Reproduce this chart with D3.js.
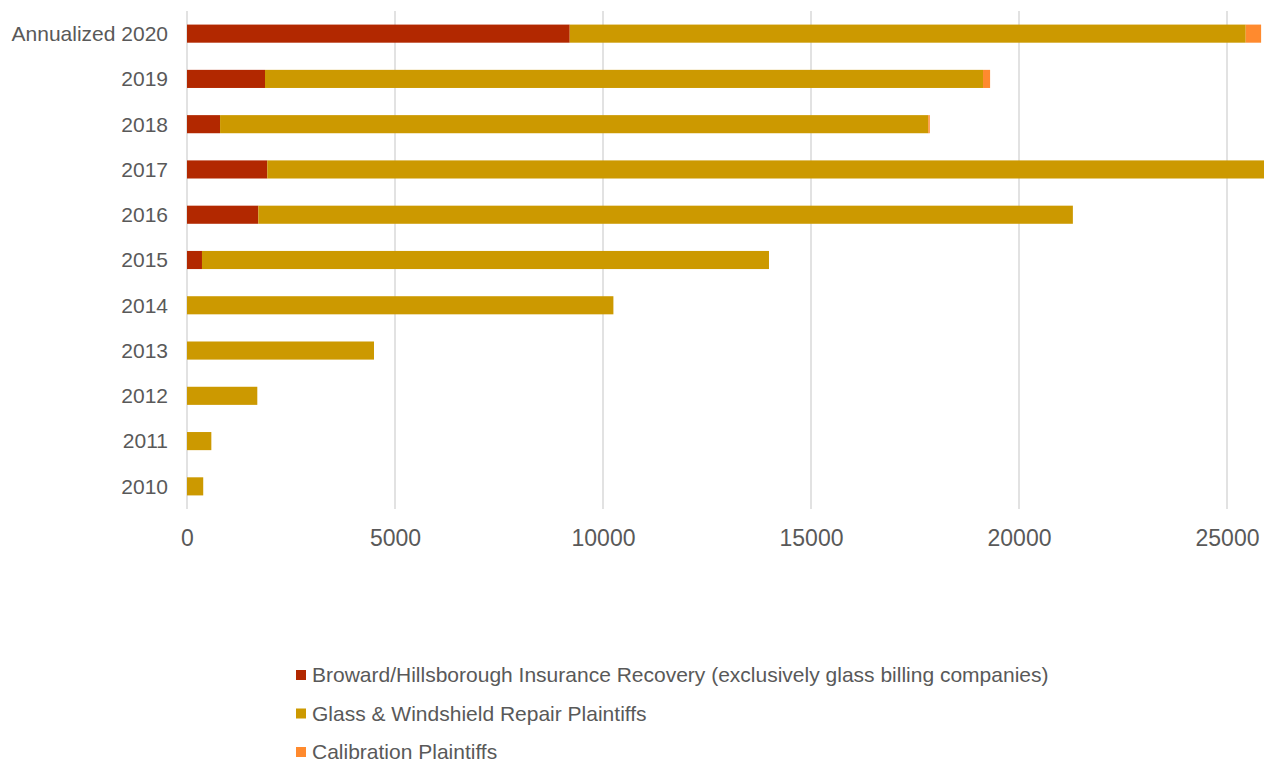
<!DOCTYPE html>
<html>
<head>
<meta charset="utf-8">
<script src="https://cdn.jsdelivr.net/npm/d3@7"></script>
<style>
  html, body { margin: 0; padding: 0; background: #fff; }
  svg { display: block; }
  text { font-family: "Liberation Sans", Arial, sans-serif; fill: #595959; }
</style>
</head>
<body>
<svg id="chart" width="1264" height="763"></svg>
<script>
// ---- data ----
const categories = ["Annualized 2020", "2019", "2018", "2017", "2016", "2015", "2014", "2013", "2012", "2011", "2010"];
const brovardRecovery = [9200, 1875, 795, 1930, 1715, 360, 0, 0, 0, 0, 0];
const glassRepair = [16250, 17260, 17025, 24600, 19580, 13630, 10250, 4495, 1690, 585, 390];
const calibration = [370, 170, 35, 0, 0, 0, 0, 0, 0, 0, 0];
const seriesNames = [
  "Broward/Hillsborough Insurance Recovery (exclusively glass billing companies)",
  "Glass & Windshield Repair Plaintiffs",
  "Calibration Plaintiffs"
];
const seriesColors = ["#B22800", "#CC9900", "#FF8A2E"];
const xTicks = [0, 5000, 10000, 15000, 20000, 25000];

// ---- layout ----
const svg = d3.select("#chart");
const x = d3.scaleLinear().domain([0, 25000]).range([187, 1227]);
const y = d3.scaleBand().domain(categories).range([11, 509]).paddingInner(0.6).paddingOuter(0.3);

// gridlines
svg.append("g").selectAll("line").data(xTicks).join("line")
  .attr("x1", d => x(d)).attr("x2", d => x(d))
  .attr("y1", 11).attr("y2", 509)
  .attr("stroke", "#D9D9D9").attr("stroke-width", 1.5);

// stacked data
const rows = categories.map((c, i) => ({ cat: c, v: [brovardRecovery[i], glassRepair[i], calibration[i]] }));
const keys = [0, 1, 2];
const stack = d3.stack().keys(keys).value((d, k) => d.v[k]);
const stacked = stack(rows);

svg.append("g").selectAll("g").data(stacked).join("g")
  .attr("fill", (d, i) => seriesColors[i])
  .selectAll("rect").data(d => d.filter(s => s[1] > s[0])).join("rect")
  .attr("x", d => x(d[0]))
  .attr("width", d => x(d[1]) - x(d[0]))
  .attr("y", d => y(d.data.cat))
  .attr("height", y.bandwidth());

// y axis
const yAxis = d3.axisLeft(y).tickSize(0).tickPadding(0);
const gy = svg.append("g").attr("transform", "translate(168,0)").call(yAxis);
gy.select(".domain").remove();
gy.selectAll("text").style("font-size", "21px").attr("fill", "#595959").attr("dy", "0.35em");

// x axis
const xAxis = d3.axisBottom(x).tickValues(xTicks).tickSize(0).tickPadding(0).tickFormat(d3.format("d"));
const gx = svg.append("g").attr("transform", "translate(0,530)").call(xAxis);
gx.select(".domain").remove();
gx.selectAll("text").style("font-size", "23px").attr("fill", "#595959");

// legend
const legend = svg.append("g").selectAll("g").data(seriesNames).join("g")
  .attr("transform", (d, i) => `translate(296,${675 + i * 38.5})`);
legend.append("rect").attr("x", 0).attr("y", -5).attr("width", 10).attr("height", 10)
  .attr("fill", (d, i) => seriesColors[i]);
legend.append("text").attr("x", 16).attr("dy", "0.35em")
  .style("font-size", "21px").text(d => d);
</script>
</body>
</html>
